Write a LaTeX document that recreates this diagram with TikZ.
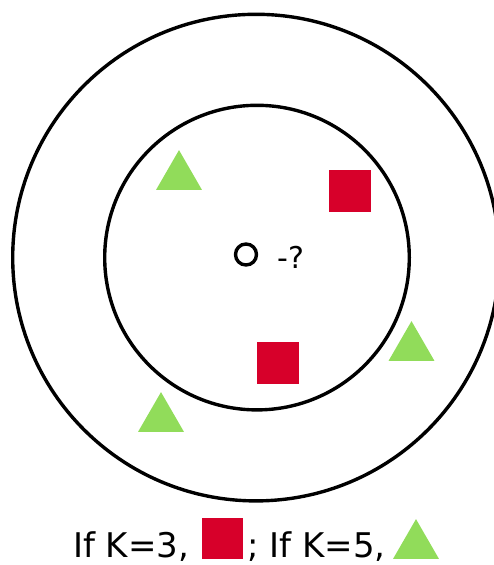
\documentclass[tikz,border=0pt]{standalone}
\usepackage{fontspec}
\setmainfont{DejaVu Sans}
\usepackage{tikz}
\usetikzlibrary{positioning, shapes.geometric}
\definecolor{classred}{RGB}{215,0,42}
\definecolor{classgreen}{RGB}{145,220,90}

\tikzset{
  ring/.style={draw=black, line width=3.4pt},
  sqmark/.style={fill=classred, minimum size=42pt, inner sep=0pt, outer sep=0pt},
  trimark/.style={regular polygon, regular polygon sides=3, fill=classgreen,
    minimum size=53pt, inner sep=0pt, outer sep=0pt},
  biglbl/.style={inner sep=0pt, font=\fontsize{34}{40}\selectfont}
}

\begin{document}
\begin{tikzpicture}[x=1pt, y=-1pt]
  \useasboundingbox (0,0) rectangle (494,565);
  % the two neighbourhoods
  \draw[ring] (256,257.6) circle (243.3);
  \draw[ring] (257,257.6) circle (152.3);
  % query point
  \node[circle, draw, line width=3.4pt, minimum size=21pt, inner sep=0pt] (query) at (246,254.5) {};
  \node[anchor=west, inner sep=0pt, font=\fontsize{30}{36}\selectfont] (qmark) at (277,257) {-?};
  % neighbours
  \node[sqmark] (sqa) at (350,191) {};
  \node[sqmark] (sqb) at (278,362.5) {};
  \node[trimark] (tria) at (179,176.6) {};
  \node[trimark] (trib) at (411.5,347.6) {};
  \node[trimark] (tric) at (161,418.6) {};
  % answer line
  \node[biglbl, anchor=base west] (kthree) at (73,557) {If K=3,};
  \node[sqmark, anchor=south west, minimum size=41pt] (ansthree) at (202,559) {};
  \node[biglbl, anchor=base west] (kfive) at (247,557) {; If K=5,};
  \node[trimark] (ansfive) at (416,545.6) {};
\end{tikzpicture}
\end{document}
